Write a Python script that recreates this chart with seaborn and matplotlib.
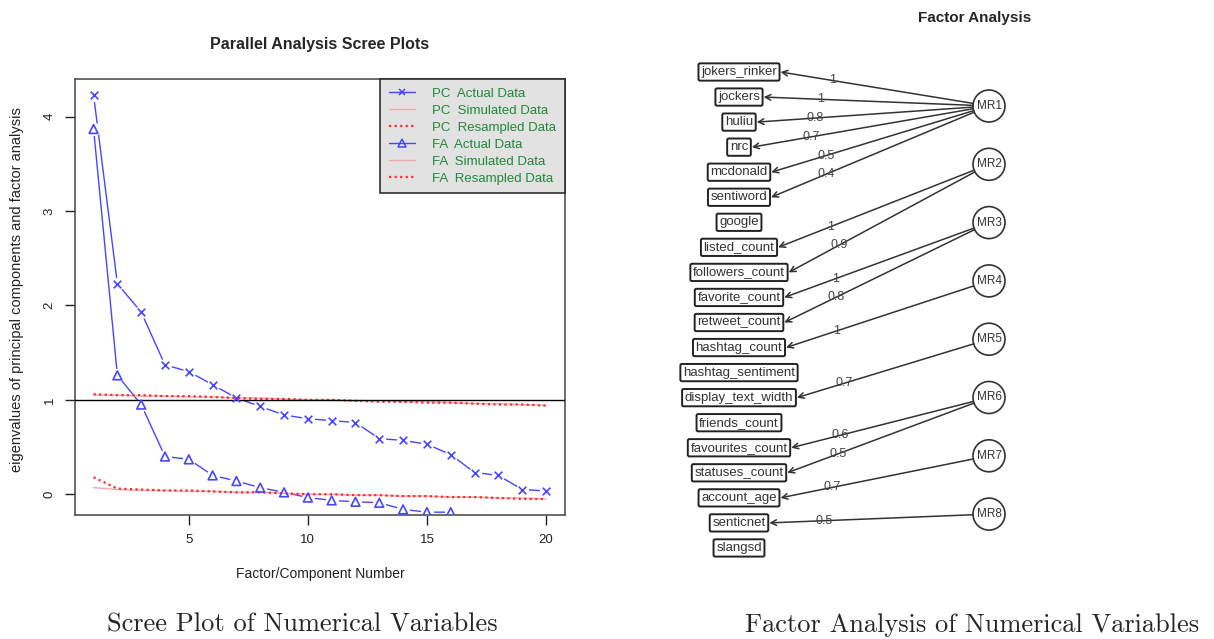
import seaborn as sns
import matplotlib.pyplot as plt
from matplotlib.lines import Line2D
from matplotlib.patches import Circle

# -----------------------------------
# SCREE PLOT DATA
# -----------------------------------
factor_number = list(range(1, 21))
pc_actual = [4.23, 2.23, 1.93, 1.37, 1.30, 1.16, 1.02, 0.93, 0.84, 0.80,
             0.78, 0.76, 0.59, 0.57, 0.53, 0.42, 0.23, 0.20, 0.05, 0.035]
pc_simulated = [1.05, 1.05, 1.04, 1.04, 1.03, 1.03, 1.02, 1.02, 1.01, 1.00,
                1.00, 0.99, 0.99, 0.98, 0.98, 0.97, 0.96, 0.96, 0.95, 0.94]
pc_resampled = [1.06, 1.05, 1.05, 1.04, 1.04, 1.03, 1.02, 1.01, 1.01, 1.00,
                1.00, 0.99, 0.98, 0.98, 0.97, 0.97, 0.96, 0.95, 0.95, 0.94]
fa_actual = [3.87, 1.26, 0.95, 0.40, 0.37, 0.20, 0.14, 0.07, 0.02, -0.035,
             -0.065, -0.08, -0.09, -0.16, -0.19, -0.19, -0.29, -0.31, -0.34, -0.36]
fa_simulated = [0.07, 0.05, 0.04, 0.04, 0.03, 0.03, 0.02, 0.02, 0.01, 0.00,
                0.00, -0.01, -0.01, -0.02, -0.02, -0.03, -0.03, -0.04, -0.04, -0.05]
fa_resampled = [0.18, 0.06, 0.05, 0.04, 0.04, 0.03, 0.02, 0.02, 0.01, 0.00,
                0.00, -0.01, -0.01, -0.02, -0.02, -0.03, -0.03, -0.04, -0.05, -0.05]

# -----------------------------------
# FACTOR DIAGRAM DATA
# -----------------------------------
variables = ["jokers_rinker", "jockers", "huliu", "nrc", "mcdonald", "sentiword",
             "google", "listed_count", "followers_count", "favorite_count",
             "retweet_count", "hashtag_count", "hashtag_sentiment",
             "display_text_width", "friends_count", "favourites_count",
             "statuses_count", "account_age", "senticnet", "slangsd"]
factors = ["MR1", "MR2", "MR3", "MR4", "MR5", "MR6", "MR7", "MR8"]
edge_factor = ["MR1", "MR1", "MR1", "MR1", "MR1", "MR1", "MR2", "MR2",
               "MR3", "MR3", "MR4", "MR5", "MR6", "MR6", "MR7", "MR8"]
edge_variable = ["jokers_rinker", "jockers", "huliu", "nrc", "mcdonald", "sentiword",
                 "listed_count", "followers_count", "favorite_count", "retweet_count",
                 "hashtag_count", "display_text_width", "favourites_count",
                 "statuses_count", "account_age", "senticnet"]
edge_loading = ["1", "1", "0.8", "0.7", "0.5", "0.4", "1", "0.9",
                "1", "0.8", "1", "0.7", "0.6", "0.5", "0.7", "0.5"]

sns.set_theme(style="white")
plt.rcParams['font.family'] = ['Liberation Sans', 'DejaVu Sans']

fig = plt.figure(figsize=(12.14, 6.39), dpi=100)

# background axes in pixel units (diagram, captions, titles)
bg = fig.add_axes([0, 0, 1, 1])
bg.set_xlim(0, 1214)
bg.set_ylim(639, 0)
bg.axis('off')

# -----------------------------------
# SCREE PLOT
# -----------------------------------
ax = fig.add_axes([75 / 1214, 1 - 515 / 639, (565 - 75) / 1214, (515 - 79) / 639])
blue = '#4646ff'
pink = '#f4a6ae'
red = '#ff2a2a'

for vals, mk in [(pc_actual, 'x'), (fa_actual, '^')]:
    sns.lineplot(x=factor_number, y=vals, ax=ax, color=blue, lw=1, zorder=2)
    # white gaps around the points, like R type="b"
    sns.scatterplot(x=factor_number, y=vals, ax=ax, color='white', s=90,
                    linewidth=0, zorder=2.5)
    sns.scatterplot(x=factor_number, y=vals, ax=ax, marker=mk,
                    s=40 if mk == '^' else 30,
                    facecolor='none' if mk == '^' else blue, edgecolor=blue,
                    linewidth=1.2, zorder=4)

for vals in [pc_simulated, fa_simulated]:
    sns.lineplot(x=factor_number, y=vals, ax=ax, color=pink, lw=1, zorder=3)
for vals in [pc_resampled, fa_resampled]:
    sns.lineplot(x=factor_number, y=vals, ax=ax, color=red, lw=1.6,
                 linestyle=(0, (1, 1.5)), zorder=3)

ax.axhline(1, color='black', lw=1, zorder=3)

ax.set_xlim(0.22, 20.8)
ax.set_ylim(-0.22, 4.40)
ax.set_xticks([5, 10, 15, 20])
ax.set_yticks([0, 1, 2, 3, 4])
ax.tick_params(bottom=True, left=True, direction='out', length=7, width=1,
               labelsize=9.5, colors='#222222', pad=7)
for lab in ax.get_yticklabels():
    lab.set_rotation(90)
    lab.set_va('center')
for sp in ax.spines.values():
    sp.set_color('#444444')
    sp.set_linewidth(1.1)
ax.set_xlabel('')
ax.set_ylabel('')

handles = [
    Line2D([], [], color=blue, lw=1, marker='x', ms=5, mew=1.1),
    Line2D([], [], color=pink, lw=1),
    Line2D([], [], color=red, lw=1.6, linestyle=(0, (1, 1.5))),
    Line2D([], [], color=blue, lw=1, marker='^', ms=6, mfc='none', mew=1.1),
    Line2D([], [], color=pink, lw=1),
    Line2D([], [], color=red, lw=1.6, linestyle=(0, (1, 1.5))),
]
labels = ['PC  Actual Data', 'PC  Simulated Data', 'PC  Resampled Data',
          'FA  Actual Data', 'FA  Simulated Data', 'FA  Resampled Data']
leg = ax.legend(handles, labels, loc='upper right', frameon=True, fancybox=False,
                facecolor='#e2e2e2', edgecolor='#222222', framealpha=1,
                borderaxespad=0, fontsize=9.5, labelcolor='#22883a',
                handlelength=2.0, borderpad=0.65, labelspacing=0.36, handletextpad=1.3)
leg.get_frame().set_linewidth(1.1)

bg.text(320, 45, 'Parallel Analysis Scree Plots', ha='center', va='center',
        fontsize=11.5, fontweight='bold')
bg.text(17, 290, 'eigenvalues of principal components and factor analysis',
        ha='center', va='center', rotation=90, fontsize=10.5, color='#222222')
bg.text(320, 574, 'Factor/Component Number', ha='center', va='center',
        fontsize=10, color='#222222')

# -----------------------------------
# FACTOR DIAGRAM
# -----------------------------------
box_x, box_y0, box_dy = 739, 72, 25.05
circ_x, circ_y0, circ_dy, circ_r = 989, 106, 58.3, 16

var_text = {}
var_y = {}
for i, v in enumerate(variables):
    y = box_y0 + i * box_dy
    var_y[v] = y
    var_text[v] = bg.text(box_x, y, v, ha='center', va='center', fontsize=9.5,
                          color='#333333',
                          bbox=dict(boxstyle='round,pad=0.2,rounding_size=0.12',
                                    fc='white', ec='#222222', lw=1.4))

fac_y = {}
for j, f in enumerate(factors):
    cy = circ_y0 + j * circ_dy
    fac_y[f] = cy
    bg.add_patch(Circle((circ_x, cy), circ_r, fill=False, ec='#333333', lw=1.2))
    bg.text(circ_x, cy, f, ha='center', va='center', fontsize=8.5, color='#333333')

fig.canvas.draw()
renderer = fig.canvas.get_renderer()
inv = bg.transData.inverted()

for f, v, lab in zip(edge_factor, edge_variable, edge_loading):
    bb = var_text[v].get_bbox_patch().get_window_extent(renderer)
    x_end = inv.transform((bb.x1, bb.y0))[0] + 1
    y_end = var_y[v]
    cy = fac_y[f]
    dx, dy = x_end - circ_x, y_end - cy
    d = (dx ** 2 + dy ** 2) ** 0.5
    x_start, y_start = circ_x + circ_r * dx / d, cy + circ_r * dy / d
    bg.annotate('', xy=(x_end, y_end), xytext=(x_start, y_start),
                arrowprops=dict(arrowstyle='->', color='#333333', lw=1.1,
                                shrinkA=0, shrinkB=0, mutation_scale=10))
    lx = x_end + 0.27 * (x_start - x_end)
    ly = y_end + 0.27 * (y_start - y_end)
    bg.text(lx, ly, lab, ha='center', va='center', fontsize=9, color='#444444')

bg.text(975, 18, 'Factor Analysis', ha='center', va='center',
        fontsize=11, fontweight='bold')

# -----------------------------------
# CAPTIONS
# -----------------------------------
bg.text(302, 625, 'Scree Plot of Numerical Variables', ha='center', va='center',
        family='cmr10', fontsize=19)
bg.text(972, 625, 'Factor Analysis of Numerical Variables', ha='center', va='center',
        family='cmr10', fontsize=19)

plt.savefig('out.png', dpi=100)
plt.close()
